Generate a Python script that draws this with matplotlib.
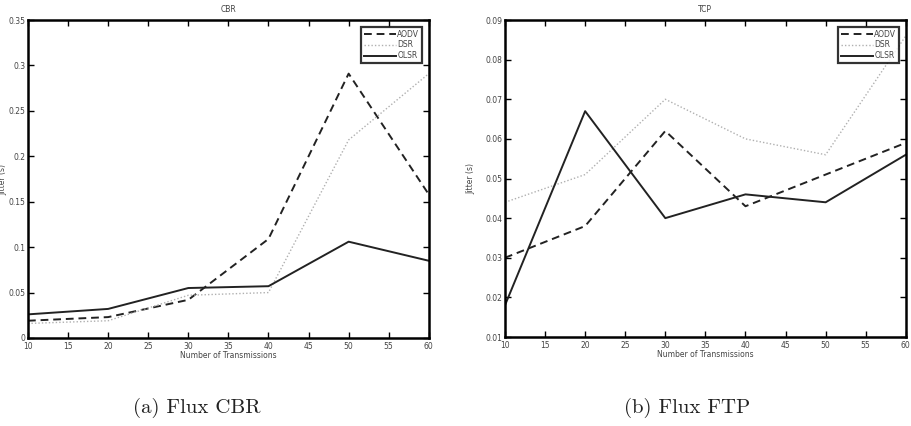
import matplotlib
matplotlib.use('Agg')
import matplotlib.pyplot as plt

x = [10, 20, 30, 40, 50, 60]

# CBR
cbr_aodv = [0.019, 0.023, 0.042, 0.109, 0.291, 0.158]
cbr_dsr = [0.016, 0.019, 0.047, 0.050, 0.218, 0.291]
cbr_olsr = [0.026, 0.032, 0.055, 0.057, 0.106, 0.085]

# TCP
tcp_aodv = [0.030, 0.038, 0.062, 0.043, 0.051, 0.059]
tcp_dsr = [0.044, 0.051, 0.070, 0.060, 0.056, 0.086]
tcp_olsr = [0.018, 0.067, 0.040, 0.046, 0.044, 0.056]

xticks = [10, 15, 20, 25, 30, 35, 40, 45, 50, 55, 60]
cbr_yticks = [0, 0.05, 0.1, 0.15, 0.2, 0.25, 0.3, 0.35]
cbr_ylabels = ['0', '0.05', '0.1', '0.15', '0.2', '0.25', '0.3', '0.35']
tcp_yticks = [0.01, 0.02, 0.03, 0.04, 0.05, 0.06, 0.07, 0.08, 0.09]
tcp_ylabels = ['0.01', '0.02', '0.03', '0.04', '0.05', '0.06', '0.07', '0.08', '0.09']

txt = '#444444'

fig = plt.figure(figsize=(9.11, 4.26), dpi=100)
ax1 = fig.add_axes([0.0307, 0.2066, 0.440, 0.7464])
ax2 = fig.add_axes([0.5543, 0.2089, 0.440, 0.7441])


def style(ax, title, yticks, ylabels, ylim, ylab_x):
    ax.set_xlim(10, 60)
    ax.set_ylim(*ylim)
    ax.set_xticks(xticks)
    ax.set_xticklabels([str(v) for v in xticks])
    ax.set_yticks(yticks)
    ax.set_yticklabels(ylabels)
    ax.tick_params(direction='in', length=4, width=1, top=True, right=True,
                   labelsize=5.5, labelcolor=txt, pad=2)
    ax.tick_params(axis='x', pad=3.2)
    for s in ax.spines.values():
        s.set_linewidth(1.8)
    ax.set_title(title, fontsize=5.5, color=txt, pad=6)
    ax.set_xlabel('Number of Transmissions', fontsize=5.5, color=txt, labelpad=0)
    ax.set_ylabel('Jitter (s)', fontsize=5.5, color=txt)
    ax.yaxis.set_label_coords(ylab_x, 0.5)
    leg = ax.legend(loc='upper right', fontsize=5.5, handlelength=4.2,
                    borderpad=0.35, labelspacing=0.25, handletextpad=0.2,
                    fancybox=False, borderaxespad=0.9)
    leg.get_frame().set_edgecolor('black')
    leg.get_frame().set_linewidth(1.6)
    for t in leg.get_texts():
        t.set_color(txt)


ax1.plot(x, cbr_aodv, color='#222222', ls=(0, (4, 2.5)), lw=1.4, label='AODV')
ax1.plot(x, cbr_dsr, color='#b0b0b0', ls=(0, (1, 1.5)), lw=1.0, label='DSR')
ax1.plot(x, cbr_olsr, color='#222222', ls='-', lw=1.4, label='OLSR')
style(ax1, 'CBR', cbr_yticks, cbr_ylabels, (0, 0.35), -0.051)

ax2.plot(x, tcp_aodv, color='#222222', ls=(0, (4, 2.5)), lw=1.4, label='AODV')
ax2.plot(x, tcp_dsr, color='#b0b0b0', ls=(0, (1, 1.5)), lw=1.0, label='DSR')
ax2.plot(x, tcp_olsr, color='#222222', ls='-', lw=1.4, label='OLSR')
style(ax2, 'TCP', tcp_yticks, tcp_ylabels, (0.01, 0.09), -0.075)

fig.text(0.216, 0.042, '(a) Flux CBR', fontsize=15, family='cmr10',
         ha='center', va='center', color='#222222')
fig.text(0.754, 0.042, '(b) Flux FTP', fontsize=15, family='cmr10',
         ha='center', va='center', color='#222222')

fig.savefig('out.png', dpi=100)
